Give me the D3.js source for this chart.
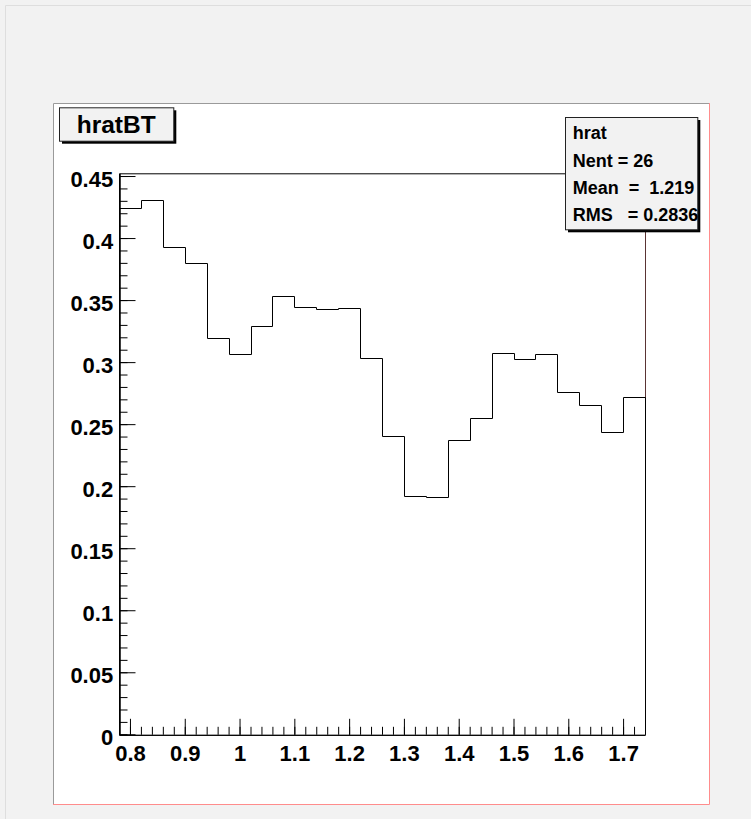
<!DOCTYPE html>
<html>
<head>
<meta charset="utf-8">
<script src="https://cdn.jsdelivr.net/npm/d3@7"></script>
<style>
  html, body { margin: 0; padding: 0; background: #f2f2f2; }
  svg { display: block; }
  text { font-family: "Liberation Sans", Arial, Helvetica, sans-serif; font-weight: bold; fill: #000; }
</style>
</head>
<body>
<svg id="chart" width="751" height="819"></svg>
<script>
// ---- data ----
const binLowEdges = [0.78, 0.82, 0.86, 0.90, 0.94, 0.98, 1.02, 1.06, 1.10, 1.14, 1.18, 1.22,
                     1.26, 1.30, 1.34, 1.38, 1.42, 1.46, 1.50, 1.54, 1.58, 1.62, 1.66, 1.70];
const binHighEdge = 1.74;
const binValues = [0.424, 0.4307, 0.3925, 0.3796, 0.3192, 0.3065, 0.3291, 0.3533, 0.3442, 0.3430, 0.3434, 0.3033,
                   0.2404, 0.1923, 0.1913, 0.2372, 0.2549, 0.3073, 0.3027, 0.3068, 0.2761, 0.2654, 0.2437, 0.2719];
const xTickValues = [0.8, 0.9, 1.0, 1.1, 1.2, 1.3, 1.4, 1.5, 1.6, 1.7];
const xTickLabels = ["0.8", "0.9", "1", "1.1", "1.2", "1.3", "1.4", "1.5", "1.6", "1.7"];
const yTickValues = [0, 0.05, 0.1, 0.15, 0.2, 0.25, 0.3, 0.35, 0.4, 0.45];
const yTickLabels = ["0", "0.05", "0.1", "0.15", "0.2", "0.25", "0.3", "0.35", "0.4", "0.45"];
const xMinorStep = 0.02;
const yMinorStep = 0.01;
const yMax = 0.4522;
const histTitle = "hratBT";
const statsLines = ["hrat", "Nent = 26", "Mean  =  1.219", "RMS   = 0.2836"];

// ---- layout ----
const svg = d3.select("#chart");
const pad = { x0: 53, y0: 103, x1: 710, y1: 805 };
const frame = { x0: 119, y0: 173.3, x1: 645, y1: 734.3 };

const x = d3.scaleLinear().domain([binLowEdges[0], binHighEdge]).range([frame.x0, frame.x1]);
const y = d3.scaleLinear().domain([0, yMax]).range([frame.y1, frame.y0]);

// canvas background + faint border
svg.append("rect").attr("width", 751).attr("height", 819).attr("fill", "#f2f2f2");
svg.append("path").attr("d", "M5.5,819 V5.5 H751").attr("fill", "none").attr("stroke", "#dedede");

// pad
svg.append("rect").attr("x", pad.x0).attr("y", pad.y0)
  .attr("width", pad.x1 - pad.x0).attr("height", pad.y1 - pad.y0).attr("fill", "#ffffff");
svg.append("path").attr("d", `M${pad.x0+0.5},${pad.y1} V${pad.y0+0.5} H${pad.x1}`)
  .attr("fill", "none").attr("stroke", "#9a9a9a");
svg.append("path").attr("d", `M${pad.x0},${pad.y1-0.5} H${pad.x1-0.5} V${pad.y0}`)
  .attr("fill", "none").attr("stroke", "#ff8c8c");

// frame
svg.append("path")
  .attr("d", `M${frame.x0+0.5},${frame.y1} V${frame.y0+0.5} H${frame.x1+0.5} V${frame.y1}`)
  .attr("fill", "none").attr("stroke", "#000").attr("stroke-width", 1);
svg.append("line").attr("x1", frame.x1 + 0.5).attr("x2", frame.x1 + 0.5)
  .attr("y1", frame.y0).attr("y2", frame.y1).attr("stroke", "#5a3434");

// histogram step line
const pts = [];
pts.push([x(binLowEdges[0]), y(0)]);
binLowEdges.forEach((lo, i) => {
  const hi = i < binLowEdges.length - 1 ? binLowEdges[i + 1] : binHighEdge;
  pts.push([x(lo), y(binValues[i])]);
  pts.push([x(hi), y(binValues[i])]);
});
pts.push([x(binHighEdge), y(0)]);
svg.append("path")
  .attr("d", d3.line().x(d => Math.round(d[0]) + 0.5).y(d => Math.round(d[1]) + 0.5)(pts))
  .attr("fill", "none").attr("stroke", "#000").attr("stroke-width", 1);

// axes
const yMinor = d3.range(0, yMax + 1e-9, yMinorStep).map(v => +v.toFixed(4));
const xMinor = d3.range(binLowEdges[0], binHighEdge + 1e-9, xMinorStep).map(v => +v.toFixed(4));

const gyMinor = svg.append("g").attr("transform", `translate(${frame.x0 + 0.5},0)`)
  .call(d3.axisLeft(y).tickValues(yMinor).tickSize(-8).tickSizeOuter(0).tickFormat(""));
const gy = svg.append("g").attr("transform", `translate(${frame.x0 + 0.5},0)`)
  .call(d3.axisLeft(y).tickValues(yTickValues).tickSize(-16).tickSizeOuter(0).tickPadding(6.3)
    .tickFormat((d, i) => yTickLabels[i]));
const gxMinor = svg.append("g").attr("transform", `translate(0,${frame.y1 + 0.5})`)
  .call(d3.axisBottom(x).tickValues(xMinor).tickSize(-8).tickSizeOuter(0).tickFormat(""));
const gx = svg.append("g").attr("transform", `translate(0,${frame.y1 + 0.5})`)
  .call(d3.axisBottom(x).tickValues(xTickValues).tickSize(-16).tickSizeOuter(0).tickPadding(10.5)
    .tickFormat((d, i) => xTickLabels[i]));

[gyMinor, gy, gxMinor, gx].forEach(g => {
  g.selectAll(".domain").attr("stroke", "#000");
  g.selectAll(".tick line").attr("stroke", "#000");
  g.selectAll("text")
    .attr("font-family", '"Liberation Sans", Arial, Helvetica, sans-serif')
    .attr("font-weight", "bold").attr("font-size", 22).attr("fill", "#000");
});
gy.selectAll("text").attr("dy", "0.46em");

// title box
const tb = { x: 59, y: 107.3, w: 114.3, h: 33.4 };
svg.append("rect").attr("x", tb.x + 3).attr("y", tb.y + 3).attr("width", tb.w).attr("height", tb.h).attr("fill", "#000");
svg.append("rect").attr("x", tb.x + 0.5).attr("y", tb.y + 0.5).attr("width", tb.w).attr("height", tb.h)
  .attr("fill", "#f2f2f2").attr("stroke", "#222");
svg.append("text").attr("x", tb.x + tb.w / 2).attr("y", 133.3).attr("text-anchor", "middle")
  .attr("font-size", 24.5).text(histTitle);

// stats box
const sb = { x: 565, y: 117, w: 132.3, h: 112.3 };
svg.append("rect").attr("x", sb.x + 3).attr("y", sb.y + 3).attr("width", sb.w).attr("height", sb.h).attr("fill", "#000");
svg.append("rect").attr("x", sb.x + 0.5).attr("y", sb.y + 0.5).attr("width", sb.w).attr("height", sb.h)
  .attr("fill", "#f2f2f2").attr("stroke", "#222");
const baselines = [139.3, 167, 193.7, 221.3];
svg.selectAll("text.stat").data(statsLines).join("text")
  .attr("class", "stat")
  .attr("x", 572.7).attr("y", (d, i) => baselines[i])
  .attr("font-size", 18).style("white-space", "pre")
  .text(d => d);
</script>
</body>
</html>
